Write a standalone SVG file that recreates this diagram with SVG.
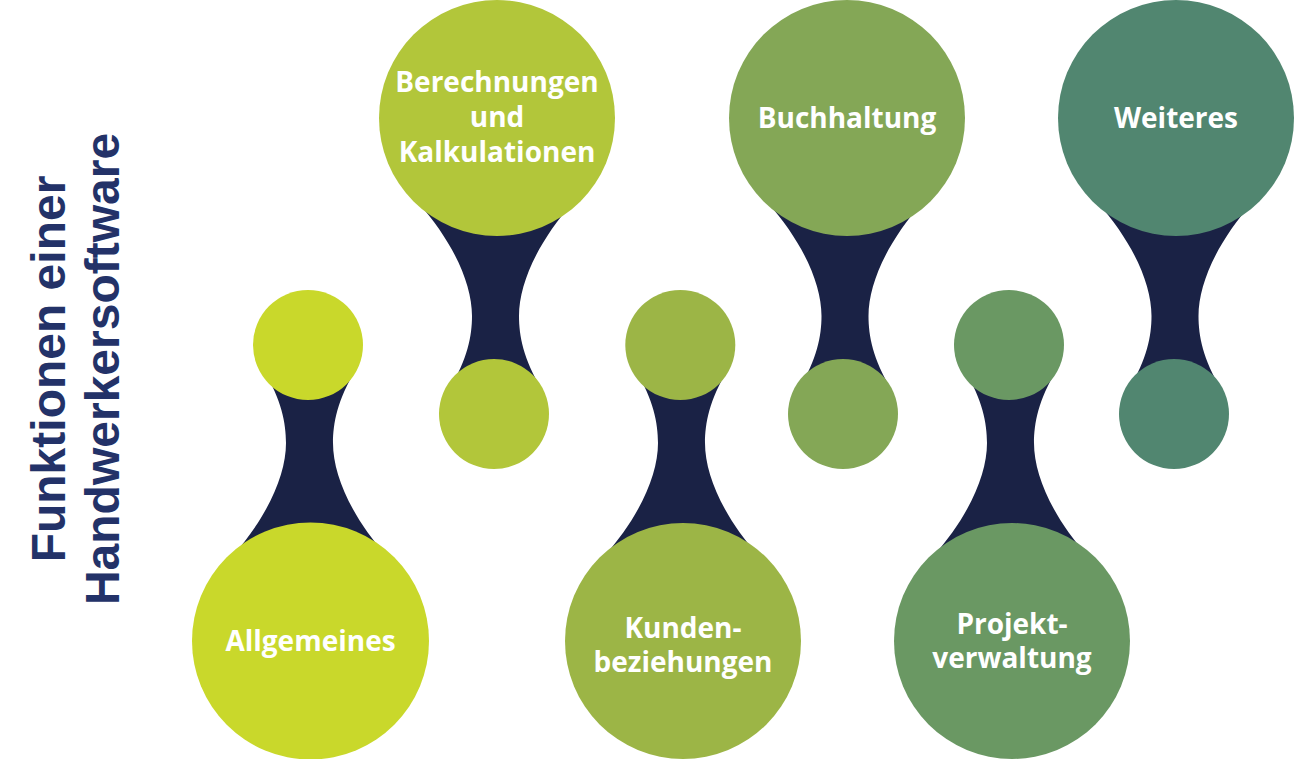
<svg xmlns="http://www.w3.org/2000/svg" xmlns:xlink="http://www.w3.org/1999/xlink" width="1294" height="759" viewBox="0 0 1294 759">
  <style>
    .lbl { font-family: "Open Sans", "Noto Sans", sans-serif; font-weight: 700; font-size: 28px; fill: #ffffff; text-anchor: middle; }
    .title { font-family: "Liberation Sans", Arial, sans-serif; font-weight: 700; font-size: 48px; fill: #233268; text-anchor: middle; }
    .neck { fill: #1a2245; }
  </style>
  <defs>
    <path id="neck" d="M -46,25 C -28,55 -23.5,78 -23.5,98 C -23.5,130 -42,172 -78,212 L 78,212 C 42,172 23.5,130 23.5,98 C 23.5,78 28,55 46,25 Z"/>
  </defs>
  <rect width="1294" height="759" fill="#ffffff"/>

  <g id="title">
    <text class="title" transform="translate(65,369) rotate(-90)">Funktionen einer</text>
    <text class="title" transform="translate(119,369) rotate(-90)">Handwerkersoftware</text>
  </g>

  <g id="connectors" class="neck">
    <use xlink:href="#neck" href="#neck" transform="translate(309.5,345)"/>
    <use xlink:href="#neck" href="#neck" transform="translate(495.5,414) scale(1,-1)"/>
    <use xlink:href="#neck" href="#neck" transform="translate(681.5,345)"/>
    <use xlink:href="#neck" href="#neck" transform="translate(845,414) scale(1,-1)"/>
    <use xlink:href="#neck" href="#neck" transform="translate(1010.5,345)"/>
    <use xlink:href="#neck" href="#neck" transform="translate(1175,414) scale(1,-1)"/>
  </g>

  <g id="node-allgemeines" fill="#c9d82b">
    <circle cx="308" cy="345" r="55"/>
    <circle cx="310.5" cy="641" r="118.5"/>
    <text class="lbl" x="310.5" y="651">Allgemeines</text>
  </g>

  <g id="node-berechnungen" fill="#b2c63a">
    <circle cx="497" cy="118" r="118"/>
    <circle cx="494" cy="414" r="55"/>
    <text class="lbl" x="497" y="92">Berechnungen</text>
    <text class="lbl" x="497" y="127">und</text>
    <text class="lbl" x="497" y="162">Kalkulationen</text>
  </g>

  <g id="node-kunden" fill="#9cb546">
    <circle cx="680.3" cy="345" r="55"/>
    <circle cx="683" cy="641" r="118"/>
    <text class="lbl" x="683" y="638">Kunden-</text>
    <text class="lbl" x="683" y="672">beziehungen</text>
  </g>

  <g id="node-buchhaltung" fill="#84a756">
    <circle cx="847" cy="118" r="118"/>
    <circle cx="843" cy="414" r="55"/>
    <text class="lbl" x="847" y="128">Buchhaltung</text>
  </g>

  <g id="node-projekt" fill="#6a9863">
    <circle cx="1009" cy="345" r="55"/>
    <circle cx="1012" cy="641" r="118"/>
    <text class="lbl" x="1012" y="634">Projekt-</text>
    <text class="lbl" x="1012" y="668">verwaltung</text>
  </g>

  <g id="node-weiteres" fill="#518670">
    <circle cx="1176" cy="118" r="118"/>
    <circle cx="1174" cy="414" r="55"/>
    <text class="lbl" x="1176" y="128">Weiteres</text>
  </g>
</svg>
